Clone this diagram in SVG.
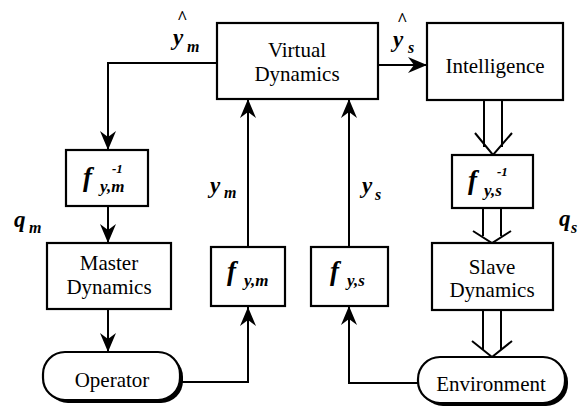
<svg xmlns="http://www.w3.org/2000/svg" width="585" height="415" viewBox="0 0 585 415">
<style>
.box{fill:#fff;stroke:#000;stroke-width:2.2}
.shadow{fill:#000}
text{font-family:'Liberation Serif','Times New Roman',Times,Tinos,'Noto Serif','DejaVu Serif',FreeSerif,serif}
.lbl{font-size:21px;fill:#000;text-anchor:middle}
.m{font-style:italic;font-weight:bold;fill:#000}
.wire{fill:none;stroke:#000;stroke-width:2}
.dbl{fill:none;stroke:#000;stroke-width:2}
</style>
<defs>
<marker id="ah" markerUnits="userSpaceOnUse" markerWidth="22" markerHeight="20" viewBox="-20 -10 22 20" refX="0" refY="0" orient="auto">
<path d="M0,0 L-19,-8 L-13,0 L-19,8 Z" fill="#000"/>
</marker>
</defs>
<rect width="585" height="415" fill="#fff"/>
<g id="connectors">
<path class="wire" d="M217,63 H108 V150" marker-end="url(#ah)"/>
<path class="wire" d="M108,206 V243" marker-end="url(#ah)"/>
<path class="wire" d="M108,309 V352" marker-end="url(#ah)"/>
<path class="wire" d="M180,382 H248 V307" marker-end="url(#ah)"/>
<path class="wire" d="M248,247 V99" marker-end="url(#ah)"/>
<path class="wire" d="M418,383 H349 V306" marker-end="url(#ah)"/>
<path class="wire" d="M349,247 V99" marker-end="url(#ah)"/>
<path class="wire" d="M378,65 H427" marker-end="url(#ah)"/>
<path class="dbl" d="M484,100 V147 M502,100 V147 M475,133 L493,155 L512,133"/>
<path class="dbl" d="M483,208 V236 M501,208 V236 M473,231 L492,243 L511,231"/>
<path class="dbl" d="M483,310 V350 M501,310 V350 M472,341 L492,357 L512,341"/>
</g>
<g id="virtual-dynamics">
<rect class="box" x="217" y="23" width="161" height="76"/>
<text class="lbl" x="297" y="57">Virtual</text>
<text class="lbl" x="297" y="81">Dynamics</text>
</g>
<g id="intelligence">
<rect class="box" x="427" y="23" width="136" height="77"/>
<text class="lbl" x="495" y="73">Intelligence</text>
</g>
<g id="f-inv-m">
<rect class="box" x="66" y="150" width="82" height="56"/>
<text class="m" x="83" y="186" font-size="27">f</text>
<text class="m" x="100" y="192" font-size="17">y,m</text>
<text class="m" x="112" y="173" font-size="13">-1</text>
</g>
<g id="f-inv-s">
<rect class="box" x="452" y="155" width="81" height="53"/>
<text class="m" x="468" y="189" font-size="27">f</text>
<text class="m" x="484" y="196" font-size="17">y,s</text>
<text class="m" x="497" y="176" font-size="13">-1</text>
</g>
<g id="master-dynamics">
<rect class="box" x="47" y="243" width="124" height="66"/>
<text class="lbl" x="109" y="270">Master</text>
<text class="lbl" x="109" y="294">Dynamics</text>
</g>
<g id="slave-dynamics">
<rect class="box" x="432" y="243" width="121" height="67"/>
<text class="lbl" x="492" y="274">Slave</text>
<text class="lbl" x="492" y="297">Dynamics</text>
</g>
<g id="f-m">
<rect class="box" x="211" y="247" width="74" height="59"/>
<text class="m" x="227" y="280" font-size="27">f</text>
<text class="m" x="244" y="286" font-size="17">y,m</text>
</g>
<g id="f-s">
<rect class="box" x="311" y="247" width="77" height="59"/>
<text class="m" x="330" y="280" font-size="27">f</text>
<text class="m" x="347" y="286" font-size="17">y,s</text>
</g>
<g id="operator">
<rect class="shadow" x="46" y="355" width="137" height="48" rx="22"/>
<rect class="box" x="43" y="352" width="137" height="48" rx="22"/>
<text class="lbl" x="112" y="387">Operator</text>
</g>
<g id="environment">
<rect class="shadow" x="421" y="360" width="147" height="46" rx="22"/>
<rect class="box" x="418" y="357" width="147" height="46" rx="22"/>
<text class="lbl" x="491" y="391">Environment</text>
</g>
<g id="labels">
<text class="m" x="173" y="45" font-size="23">y</text>
<text class="m" x="177" y="24" font-size="18">^</text>
<text class="m" x="187" y="52" font-size="16">m</text>
<text class="m" x="393" y="47" font-size="23">y</text>
<text class="m" x="397" y="26" font-size="18">^</text>
<text class="m" x="408" y="53" font-size="16">s</text>
<text class="m" x="210" y="193" font-size="23">y</text>
<text class="m" x="224" y="198" font-size="16">m</text>
<text class="m" x="362" y="193" font-size="23">y</text>
<text class="m" x="375" y="200" font-size="16">s</text>
<text class="m" x="14" y="227" font-size="23">q</text>
<text class="m" x="29" y="233" font-size="16">m</text>
<text class="m" x="559" y="226" font-size="23">q</text>
<text class="m" x="571" y="233" font-size="16">s</text>
</g>
</svg>
